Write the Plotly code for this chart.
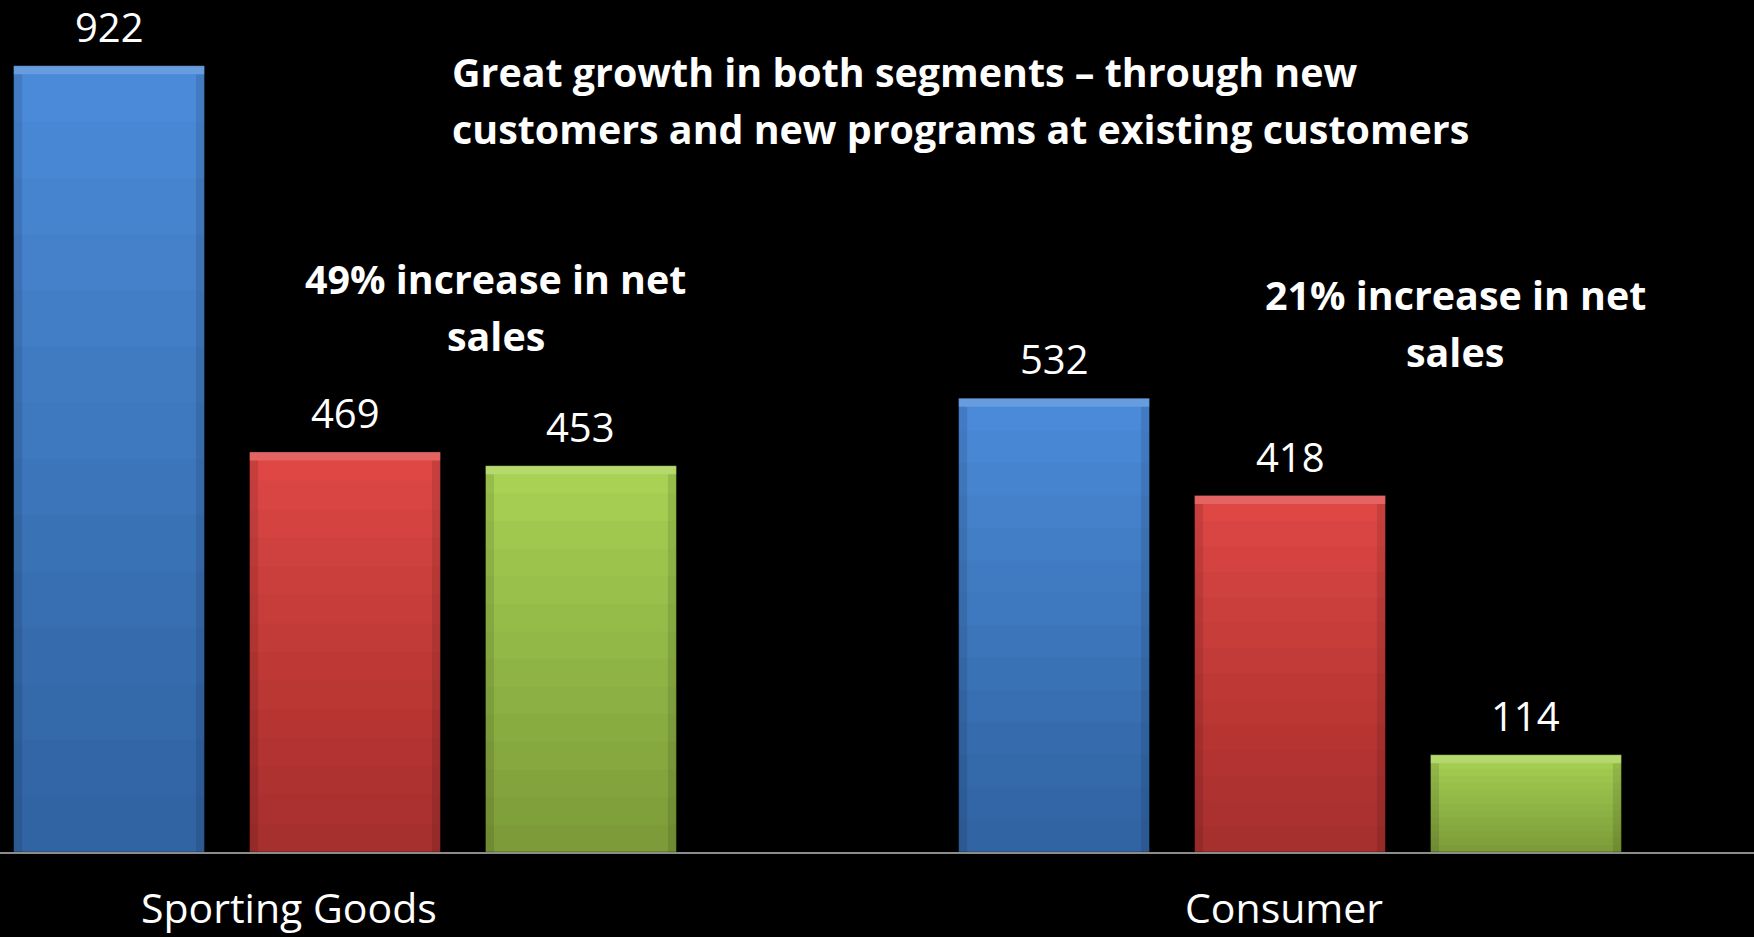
import plotly.graph_objects as go

# ---- data -------------------------------------------------------------
categories = ["Sporting Goods", "Consumer"]
current_year = [922, 532]
prior_year = [469, 418]
growth = [453, 114]

headline = [
    "Great growth in both segments – through new",
    "customers and new programs at existing customers",
]
growth_notes = [
    ["49% increase in net", "sales"],
    ["21% increase in net", "sales"],
]

# ---- styling ----------------------------------------------------------
W, H = 1754, 937
PLOT_BOTTOM = 852            # pixel row of the category axis line
FONT = "Open Sans"
BAR_W = 0.202                # bar width in category units
SLOT = 0.2497                # distance between neighbouring bars in a group
EDGE_W = 0.009               # width of the shaded side bevels
SHADE_STEPS = 14
SHADE_ALPHA = 0.019
BEVEL = 10                   # height of the lit top edge, in value units

series = [
    ("Current year", current_year, "#4a8ad9"),
    ("Prior year", prior_year, "#de4744"),
    ("Growth", growth, "#a8d253"),
]

x_idx = list(range(len(categories)))
fig = go.Figure()

for s, (name, values, color) in enumerate(series):
    off = (s - 1) * SLOT - BAR_W / 2
    # base bar
    fig.add_trace(go.Bar(
        x=x_idx, y=values, name=name, width=BAR_W, offset=off,
        marker=dict(color=color, line=dict(color="rgba(0,0,0,0.35)", width=1)),
        hoverinfo="y", showlegend=False,
    ))
    # vertical shading: darker toward the baseline
    for k in range(1, SHADE_STEPS):
        fig.add_trace(go.Bar(
            x=x_idx, y=[v * k / SHADE_STEPS for v in values], width=BAR_W, offset=off,
            marker=dict(color=f"rgba(0,0,0,{SHADE_ALPHA})", line=dict(width=0)),
            hoverinfo="skip", showlegend=False,
        ))
    # darker side bevels
    for edge_off in (off, off + BAR_W - EDGE_W):
        fig.add_trace(go.Bar(
            x=x_idx, y=[v - BEVEL for v in values], width=EDGE_W, offset=edge_off,
            marker=dict(color="rgba(0,0,0,0.10)", line=dict(width=0)),
            hoverinfo="skip", showlegend=False,
        ))
    # lit bevel along the top edge
    fig.add_trace(go.Bar(
        x=x_idx, y=[-BEVEL] * len(values), base=values, width=BAR_W, offset=off,
        marker=dict(color="rgba(255,255,255,0.16)", line=dict(width=0)),
        hoverinfo="skip", showlegend=False,
    ))


def px_x(p):
    return p / W


def px_y(p):
    return (PLOT_BOTTOM - p) / PLOT_BOTTOM


annotations = []

# value labels above each bar
for s, (name, values, color) in enumerate(series):
    for i, v in enumerate(values):
        annotations.append(dict(
            x=i + (s - 1) * SLOT, y=v, xref="x", yref="y",
            text=str(v), showarrow=False, yanchor="bottom", yshift=10,
            font=dict(family=FONT, size=40, color="white"),
        ))

# category labels under the axis
label_shift = [-56, -6]
for i, cat in enumerate(categories):
    annotations.append(dict(
        x=i, y=0, xref="x", yref="paper", text=cat, showarrow=False,
        xshift=label_shift[i], yanchor="middle", yshift=-55,
        font=dict(family=FONT, size=41, color="white"),
    ))

# headline
LINE = 57
for j, line in enumerate(headline):
    annotations.append(dict(
        x=px_x(450), y=px_y(72 + j * LINE), xref="paper", yref="paper",
        text=f"<b>{line}</b>", showarrow=False, xanchor="left", yanchor="middle",
        font=dict(family=FONT, size=39.4, color="white"),
    ))

# growth notes per segment
note_pos = [(496, 279), (1455, 295)]
for (cx, cy), lines in zip(note_pos, growth_notes):
    for j, line in enumerate(lines):
        annotations.append(dict(
            x=px_x(cx), y=px_y(cy + j * LINE), xref="paper", yref="paper",
            text=f"<b>{line}</b>", showarrow=False, xanchor="center", yanchor="middle",
            font=dict(family=FONT, size=39.4, color="white"),
        ))

fig.update_layout(
    width=W, height=H,
    margin=dict(l=0, r=0, t=0, b=H - PLOT_BOTTOM, pad=0),
    paper_bgcolor="black", plot_bgcolor="black",
    barmode="overlay", showlegend=False,
    annotations=annotations,
    xaxis=dict(
        range=[-345 / 945, (W - 345) / 945], showticklabels=False, ticks="",
        showgrid=False, zeroline=False, showline=True,
        linecolor="#8c8c8c", linewidth=2, fixedrange=True,
    ),
    yaxis=dict(range=[0, 999], visible=False, fixedrange=True),
)

fig.write_html("out.html")
